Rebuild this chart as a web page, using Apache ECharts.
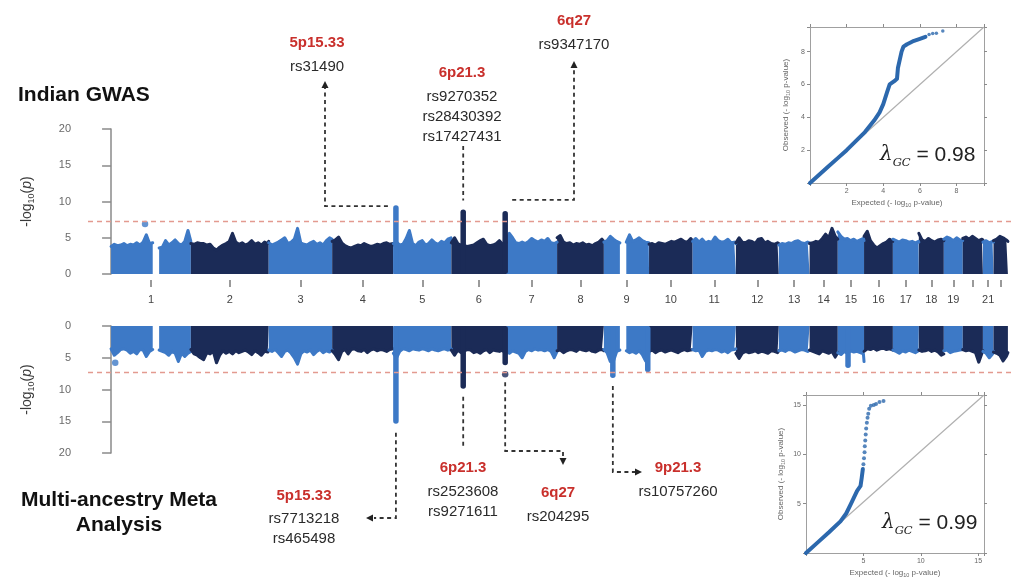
<!DOCTYPE html>
<html><head><meta charset="utf-8">
<script src="https://cdn.jsdelivr.net/npm/echarts@6/dist/echarts.min.js"></script>
<style>html,body{margin:0;padding:0;background:#fff}#c{width:1014px;height:583px}</style>
</head><body><div id="c"></div>
<script>
// ---------------- DATA ----------------
const chromNames = ['1','2','3','4','5','6','7','8','9','10','11','12','13','14','15','16','17','18','19','20','21','22'];
const chromLenMb = [249,243,198,191,181,171,159,146,141,136,135,134,96,88,82,90,81,78,59,63,33,45];
const labelledChroms = ['1','2','3','4','5','6','7','8','9','10','11','12','13','14','15','16','17','18','19','21'];
const binMb = 10; // skyline values are read every 10 Mb along each chromosome
const pTicks = [0,5,10,15,20];
const genomeWideLine = 7.3;

// Indian GWAS: upper envelope of -log10(p) per 10 Mb bin (null = no SNPs)
const indianSkyline = [
 [3.8,4.1,3.9,4.0,4.2,3.9,4.1,4.0,4.3,4.0,4.4,5.4,4.2,4.3,null,3.6,3.7,4.6,4.0,4.3,4.7,4.2,4.0,4.5,6.0,4.5],
 [4.2,4.1,4.3,4.2,4.2,4.0,4.1,3.6,3.3,3.7,4.0,4.2,4.5,5.6,4.4,4.1,4.3,4.0,4.2,4.6,4.1,4.3,4.0,4.4,4.2,4.5],
 [4.3,4.0,4.2,4.4,4.7,5.0,4.2,4.4,4.8,6.3,4.3,4.1,4.0,4.3,4.5,4.1,4.3,4.0,4.6,5.0,4.8],
 [4.5,4.7,5.1,4.3,3.9,3.7,3.6,3.8,4.0,3.9,4.2,4.0,3.8,3.9,4.1,4.0,4.2,4.3,4.1,4.2,4.0],
 [4.2,4.4,4.0,4.1,4.9,6.0,4.2,3.9,4.4,4.6,4.0,4.2,4.7,4.3,4.1,4.5,4.3,4.8,5.0,4.6],
 [4.3,5.0,4.2,4.0,3.9,3.8,3.9,4.0,4.3,4.6,4.8,4.1,3.9,4.0,4.2,4.6,4.1,4.3,4.4],
 [4.6,5.6,5.0,4.3,4.2,4.4,4.2,4.5,4.9,4.6,4.4,4.7,4.5,4.9,4.3,4.2,4.4],
 [5.0,5.3,4.4,4.2,4.3,4.0,4.2,4.1,4.3,4.0,4.1,3.9,4.2,4.4,4.8,4.5],
 [4.4,4.6,5.2,4.8,4.5,4.3,null,4.4,5.4,4.5,4.7,5.0,4.6,4.4,4.3,4.2],
 [4.1,4.2,4.0,4.3,4.2,4.1,4.3,4.5,4.4,4.6,4.8,4.5,4.4,4.9,4.6],
 [4.5,4.9,4.4,4.8,4.3,4.5,4.4,5.1,4.6,4.4,4.5,4.8,4.3,4.4,4.2],
 [4.3,5.0,4.4,4.3,4.6,4.5,4.2,4.8,4.9,4.3,4.5,4.2,4.1,4.3,4.2],
 [4.0,4.2,4.1,4.3,4.2,4.5,4.6,4.3,4.2,4.4,4.3],
 [4.2,4.3,4.5,4.4,4.9,5.5,5.0,6.3,5.2,4.8],
 [5.8,5.2,4.8,4.9,4.6,4.8,4.5,4.7,4.9,4.6],
 [5.2,5.9,4.6,4.0,3.6,3.9,4.2,4.4,4.8,4.5],
 [4.8,4.6,4.4,4.7,4.6,4.4,4.5,4.3,4.5,4.4],
 [5.6,4.7,4.5,4.9,4.6,4.4,4.7,4.8,4.6],
 [4.8,5.1,4.9,4.6,5.0,4.7,4.6],
 [4.9,5.1,4.8,5.2,4.9,4.6,4.8,4.7],
 [4.4,4.6,4.3,4.5,4.4],
 [4.6,4.8,5.2,5.0,4.7,4.5]
];
// Multi-ancestry meta analysis envelope
const metaSkyline = [
 [3.6,4.6,4.2,3.7,3.6,3.8,4.3,4.0,4.4,3.7,3.8,4.8,4.0,3.7,null,3.8,4.0,4.2,4.6,4.0,4.3,5.6,4.3,4.8,4.3,4.0],
 [3.7,4.4,4.6,5.0,5.3,4.2,4.4,4.0,5.8,4.6,3.9,4.3,4.0,4.4,3.9,4.2,4.0,3.8,4.1,4.5,3.9,4.2,4.6,4.0,4.1,3.9],
 [3.8,4.0,3.7,4.2,4.8,4.0,3.8,4.3,5.0,6.0,4.4,3.9,4.1,3.8,4.5,4.0,3.7,4.2,3.9,4.1,3.8],
 [3.9,4.5,5.3,4.0,3.7,4.4,3.7,3.6,3.9,4.0,3.7,4.2,3.8,3.6,3.9,3.7,3.8,4.0,3.7,3.6,3.6],
 [4.3,5.0,4.0,3.6,3.7,3.9,3.6,3.7,3.8,3.6,3.7,3.9,3.6,3.8,3.9,3.7,3.6,3.8,3.7,3.6],
 [3.8,4.6,3.8,4.2,3.9,3.7,3.8,4.2,4.0,4.3,3.9,3.7,4.2,3.8,3.9,4.0,3.8,4.5,4.2],
 [4.0,4.3,3.9,4.1,4.3,5.0,4.0,3.7,3.9,3.6,3.8,3.7,3.9,3.7,4.0,5.0,4.0],
 [3.9,3.8,4.2,3.9,3.7,3.8,4.0,3.6,3.8,3.9,3.7,4.0,4.1,3.8,3.7,3.9],
 [3.7,4.2,5.6,5.5,4.0,3.8,null,3.9,4.2,4.0,4.3,3.9,4.5,5.5,4.5,4.0],
 [4.0,3.8,4.2,3.9,3.8,4.1,3.9,3.8,4.0,4.2,3.9,3.7,3.9,3.8,3.7],
 [3.7,3.9,3.8,4.8,4.0,3.8,3.9,3.7,3.8,4.1,3.9,4.2,3.8,3.7,3.6],
 [4.3,5.1,4.3,4.0,4.2,4.1,3.9,4.2,4.0,4.1,4.3,3.9,4.0,4.2,3.9],
 [3.9,3.8,4.0,3.7,3.8,4.1,3.9,3.7,3.8,4.0,3.8],
 [3.8,4.0,4.2,4.4,3.9,4.1,4.3,4.0,4.9,4.2],
 [4.2,4.5,4.0,4.3,3.9,4.1,4.0,4.2,4.4,5.6],
 [4.0,3.6,3.7,3.5,3.8,3.6,3.5,3.7,3.6,3.8],
 [3.8,4.0,4.3,3.9,4.1,3.8,4.0,4.2,3.9,3.8],
 [3.8,4.0,3.9,3.7,4.0,3.8,4.1,4.6,4.4],
 [3.9,3.8,4.2,4.0,3.9,3.8,3.7],
 [3.7,3.9,3.8,4.0,4.2,5.7,4.3,3.9],
 [4.0,4.3,5.0,4.4,4.0],
 [4.1,4.3,4.6,5.5,4.8,4.2]
];
// narrow columns of associated SNPs: [chromosome, position Mb, top -log10 p]
const indianPeaks = [['5',8,9.5],['6',37,8.9],['6',168,8.7]];
const metaPeaks = [['5',8,15.4],['6',37,9.9],['6',168,6.2],['9',28,8.2],['9',137,7.3],['15',32,6.6]];
const indianDots = [['1',106,6.9]];
const metaDots = [['1',13,5.8],['6',168,7.6]];

// loci annotations
const indianLociBands = ['5p15.33','6p21.3','6q27'];
const indianLociSnps = [['rs31490'],['rs9270352','rs28430392','rs17427431'],['rs9347170']];
const metaLociBands = ['5p15.33','6p21.3','6q27','9p21.3'];
const metaLociSnps = [['rs7713218','rs465498'],['rs2523608','rs9271611'],['rs204295'],['rs10757260']];

// QQ plots [expected, observed]
const qqIndianCurve = [[0,0],[0.5,0.5],[1,1],[1.5,1.5],[2,2],[2.5,2.55],[3,3.1],[3.25,3.45],[3.5,3.8],[3.8,4.3],[4.0,4.8],[4.2,5.5],[4.35,6.0],[4.6,6.2],[4.75,6.35],[4.8,7.0],[4.9,7.1],[5.0,8.0],[5.1,8.3],[5.3,8.45],[5.6,8.62],[6.0,8.78],[6.3,8.9]];
const qqIndianTail = [[6.5,9.05],[6.7,9.1],[6.9,9.12],[7.25,9.25]];
const qqMetaCurve = [[0,0],[1,1.05],[2,2.1],[3,3.2],[3.5,4.0],[3.9,4.95],[4.45,6.3],[4.75,6.8],[4.85,7.6],[4.95,8.5]];
const qqMetaTail = [[5.0,9.0],[5.05,9.6],[5.1,10.2],[5.12,10.8],[5.16,11.4],[5.2,12.0],[5.24,12.6],[5.3,13.2],[5.36,13.7],[5.42,14.1],[5.5,14.6],[5.65,14.9],[5.9,15.0],[6.1,15.1],[6.4,15.3],[6.75,15.4]];
const lambdaIndian = '0.98';
const lambdaMeta = '0.99';

// ---------------- CHART ----------------
const LIGHT = '#3d79c6', DARK = '#1b2b57';
const offsets = []; let acc = 0;
chromLenMb.forEach(l => { offsets.push(acc); acc += l; });
const totalMb = acc;
const centers = chromLenMb.map((l, i) => offsets[i] + l / 2);
const labelCenters = labelledChroms.map(c => centers[chromNames.indexOf(c)]);
const cum = (chr, pos) => offsets[chromNames.indexOf(chr)] + pos;
const colorOf = ci => (ci % 2 === 0 ? LIGHT : DARK);
const chromOfValue = v => { let best = 0, bd = Infinity; centers.forEach((c, i) => { const d = Math.abs(c - v); if (d < bd) { bd = d; best = i; } }); return chromNames[best]; };

function skylineSeries(sky, ai) {
  return sky.map((vals, ci) => ({
    type: 'line', xAxisIndex: ai, yAxisIndex: ai, symbol: 'none', silent: true, animation: false,
    data: vals.map((v, i) => [offsets[ci] + Math.min(i * binMb, chromLenMb[ci]), v]),
    lineStyle: { width: 3, color: colorOf(ci), cap: 'round', join: 'round' },
    areaStyle: { color: colorOf(ci), opacity: 1 },
    connectNulls: false, z: 2
  }));
}
function towerSeries(peaks, ai) {
  return {
    type: 'custom', xAxisIndex: ai, yAxisIndex: ai, silent: true, animation: false, z: 3,
    encode: { x: 0, y: 1 },
    data: peaks.map(p => [cum(p[0], p[1]), p[2], chromNames.indexOf(p[0])]),
    renderItem: (params, api) => {
      const x = api.value(0), v = api.value(1), ci = api.value(2);
      const a = api.coord([x, 0]), b = api.coord([x, v]);
      const w = 5.5, y0 = Math.min(a[1], b[1]), h = Math.abs(a[1] - b[1]);
      return { type: 'rect', shape: { x: a[0] - w / 2, y: y0, width: w, height: h, r: w / 2 }, style: { fill: colorOf(ci) } };
    }
  };
}
function dotSeries(dots, ai) {
  return {
    type: 'scatter', xAxisIndex: ai, yAxisIndex: ai, silent: true, animation: false, z: 3, symbolSize: 6.5,
    data: dots.map(d => ({ value: [cum(d[0], d[1]), d[2]], itemStyle: { color: colorOf(chromNames.indexOf(d[0])) } }))
  };
}
const thresholdMark = {
  silent: true, symbol: ['none', 'none'], label: { show: false }, animation: false,
  lineStyle: { color: '#e39a90', type: [5, 4], width: 1.3 },
  data: [{ yAxis: genomeWideLine }]
};

const FONT = '"Liberation Sans", Arial, Helvetica, sans-serif';
const yName = '-log{s|10}({i|p})';
const yNameStyle = {
  fontSize: 14, color: '#3a3a3a', fontFamily: FONT,
  rich: {
    s: { fontSize: 9, color: '#3a3a3a', fontFamily: FONT, verticalAlign: 'bottom', lineHeight: 18 },
    i: { fontSize: 14, color: '#3a3a3a', fontFamily: FONT, fontStyle: 'italic', lineHeight: 18 }
  }
};
function manhattanY(gi, inverse) {
  return {
    gridIndex: gi, type: 'value', min: pTicks[0], max: pTicks[pTicks.length - 1], interval: 5, inverse: inverse,
    axisLine: { show: true, lineStyle: { color: '#8a8a8a', width: 1.5 } },
    axisTick: { show: true, length: 9, lineStyle: { color: '#8a8a8a', width: 1.5 } },
    axisLabel: { color: '#6a6a6a', fontSize: 11, margin: 17, fontFamily: FONT },
    splitLine: { show: false },
    name: yName, nameLocation: 'middle', nameRotate: 90, nameGap: 52, nameTextStyle: yNameStyle
  };
}
const qqName = (t) => t + ' (- log{s|10} p-value)';
function qqAxes(gi, max, step, isX, mirror, nameGap) {
  const ax = {
    gridIndex: gi, type: 'value', min: 0, max: max, interval: step,
    position: isX ? (mirror ? 'top' : 'bottom') : (mirror ? 'right' : 'left'),
    axisLine: { show: true, onZero: false, lineStyle: { color: '#a0a0a0', width: 1 } },
    axisTick: { show: true, length: 3, lineStyle: { color: '#8a8a8a', width: 1 } },
    axisLabel: { show: !mirror, fontSize: 7, color: '#666', margin: 5, fontFamily: FONT,
      formatter: v => (v > 0 && Math.abs(v / step - Math.round(v / step)) < 1e-6) ? String(v) : '' },
    splitLine: { show: false }
  };
  if (!mirror) {
    ax.name = qqName(isX ? 'Expected' : 'Observed');
    ax.nameLocation = 'middle';
    ax.nameGap = nameGap;
    if (!isX) ax.nameRotate = 90;
    ax.nameTextStyle = { fontSize: 8, color: '#666', fontFamily: FONT,
      rich: { s: { fontSize: 5.5, color: '#666', fontFamily: FONT, verticalAlign: 'bottom', lineHeight: 10 } } };
  }
  return ax;
}

const series = [];
const topSky = skylineSeries(indianSkyline, 0);
topSky[0].markLine = thresholdMark;
const botSky = skylineSeries(metaSkyline, 1);
botSky[0].markLine = thresholdMark;
series.push(...topSky, towerSeries(indianPeaks, 0), dotSeries(indianDots, 0));
series.push(...botSky, towerSeries(metaPeaks, 1), dotSeries(metaDots, 1));
// QQ plots
series.push({ type: 'line', xAxisIndex: 2, yAxisIndex: 2, data: [[0, 0], [9.5, 9.5]], symbol: 'none', silent: true, animation: false, lineStyle: { color: '#b0b0b0', width: 1.2 }, z: 3 });
series.push({ type: 'line', xAxisIndex: 2, yAxisIndex: 2, data: qqIndianCurve, symbol: 'none', silent: true, animation: false, lineStyle: { color: '#2c68ad', width: 4, cap: 'round', join: 'round' }, z: 4 });
series.push({ type: 'scatter', xAxisIndex: 2, yAxisIndex: 2, data: qqIndianTail, symbolSize: 3.5, silent: true, animation: false, itemStyle: { color: '#2c68ad' }, z: 4 });
series.push({ type: 'line', xAxisIndex: 4, yAxisIndex: 4, data: [[0, 0], [15.5, 16]], symbol: 'none', silent: true, animation: false, lineStyle: { color: '#b0b0b0', width: 1.2 }, z: 3 });
series.push({ type: 'line', xAxisIndex: 4, yAxisIndex: 4, data: qqMetaCurve, symbol: 'none', silent: true, animation: false, lineStyle: { color: '#2c68ad', width: 4, cap: 'round', join: 'round' }, z: 4 });
series.push({ type: 'scatter', xAxisIndex: 4, yAxisIndex: 4, data: qqMetaTail, symbolSize: 4, silent: true, animation: false, itemStyle: { color: '#2c68ad' }, z: 4 });

const option = {
  backgroundColor: '#fff',
  animation: false,
  textStyle: { fontFamily: FONT },
  grid: [
    { left: 88, right: 0, top: 129, height: 145 },
    { left: 88, right: 0, top: 326, height: 127 },
    { left: 810, top: 27, width: 174, height: 156 },
    { left: 806, top: 395, width: 178, height: 158 }
  ],
  xAxis: [
    { gridIndex: 0, type: 'value', min: -72, max: totalMb + 19, offset: 6,
      axisLine: { show: false, onZero: false }, splitLine: { show: false },
      axisTick: { show: true, length: 7, customValues: centers, lineStyle: { color: '#7a7a7a', width: 1.5 } },
      axisLabel: { show: true, customValues: labelCenters, fontSize: 11, color: '#444', margin: 14, fontFamily: FONT, formatter: v => chromOfValue(v) } },
    { gridIndex: 1, type: 'value', min: -72, max: totalMb + 19, show: false },
    qqAxes(2, 9.5, 2, true, false, 15), qqAxes(2, 9.5, 2, true, true),
    qqAxes(3, 15.5, 5, true, false, 15), qqAxes(3, 15.5, 5, true, true)
  ],
  yAxis: [
    manhattanY(0, false), manhattanY(1, true),
    qqAxes(2, 9.5, 2, false, false, 19), qqAxes(2, 9.5, 2, false, true),
    qqAxes(3, 16, 5, false, false, 20), qqAxes(3, 16, 5, false, true)
  ],
  series: series
};
const chart = echarts.init(document.getElementById('c'));
chart.setOption(option);

// ---------------- ANNOTATIONS ----------------
const P = (ai, chr, pos, v) => chart.convertToPixel({ xAxisIndex: ai, yAxisIndex: ai }, [cum(chr, pos), v]);
const g = [];
const DASH = { stroke: '#333', lineWidth: 1.8, lineDash: [4, 3.5], fill: null };
function dashed(pts) { g.push({ type: 'polyline', shape: { points: pts }, style: DASH, z: 100, silent: true }); }
function arrow(x, y, dir) {
  const s = 3.5, l = 7; let pts;
  if (dir === 'up') pts = [[x, y], [x - s, y + l], [x + s, y + l]];
  else if (dir === 'down') pts = [[x, y], [x - s, y - l], [x + s, y - l]];
  else if (dir === 'left') pts = [[x, y], [x + l, y - s], [x + l, y + s]];
  else pts = [[x, y], [x - l, y - s], [x - l, y + s]];
  g.push({ type: 'polygon', shape: { points: pts }, style: { fill: '#222' }, z: 101, silent: true });
}
function txt(text, x, y, red, extra) {
  g.push(Object.assign({ type: 'text', x: x, y: y, z: 100, silent: true,
    style: { text: text, fill: red ? '#c9302c' : '#2a2a2a', font: (red ? 'bold ' : '') + '15px ' + FONT, textAlign: 'center', textVerticalAlign: 'middle' } }, extra || {}));
}
function locus(band, snps, x, y, gap) {
  txt(band, x, y, true);
  snps.forEach((s, i) => txt(s, x, y + gap + i * 20, false));
}
// Indian GWAS
let a = P(0, '5', 8, 9.5);
dashed([[a[0] - 8, a[1] + 1], [325, a[1] + 1], [325, 88]]); arrow(325, 81, 'up');
locus(indianLociBands[0], indianLociSnps[0], 317, 43, 24);
a = P(0, '6', 37, 8.9);
dashed([[a[0], 146], [a[0], a[1] - 9]]);
locus(indianLociBands[1], indianLociSnps[1], 462, 73, 24);
a = P(0, '6', 168, 8.7);
dashed([[a[0] + 7, a[1] - 11], [574, a[1] - 11], [574, 68]]); arrow(574, 61, 'up');
locus(indianLociBands[2], indianLociSnps[2], 574, 21, 24);
// Meta analysis
a = P(1, '5', 8, 15.4);
dashed([[a[0], a[1] + 9], [a[0], 518], [374, 518]]); arrow(366, 518, 'left');
locus(metaLociBands[0], metaLociSnps[0], 304, 496, 23);
a = P(1, '6', 37, 9.9);
dashed([[a[0], a[1] + 8], [a[0], 448]]);
locus(metaLociBands[1], metaLociSnps[1], 463, 468, 24);
a = P(1, '6', 168, 7.6);
dashed([[a[0], a[1] + 8], [a[0], 451], [563, 451], [563, 458]]); arrow(563, 465, 'down');
locus(metaLociBands[2], metaLociSnps[2], 558, 493, 24);
a = P(1, '9', 28, 8.2);
dashed([[a[0], a[1] + 8], [a[0], 472], [635, 472]]); arrow(642, 472, 'right');
locus(metaLociBands[3], metaLociSnps[3], 678, 468, 24);

// titles
const TITLE_FONT = 'bold 21px ' + FONT;
g.push({ type: 'text', x: 18, y: 95, silent: true, style: { text: 'Indian GWAS', font: TITLE_FONT, fill: '#111', textAlign: 'left', textVerticalAlign: 'middle' } });
g.push({ type: 'text', x: 119, y: 500, silent: true, style: { text: 'Multi-ancestry Meta', font: TITLE_FONT, fill: '#111', textAlign: 'center', textVerticalAlign: 'middle' } });
g.push({ type: 'text', x: 119, y: 525, silent: true, style: { text: 'Analysis', font: TITLE_FONT, fill: '#111', textAlign: 'center', textVerticalAlign: 'middle' } });

// lambda labels
function lambdaText(val, x, y) {
  g.push({ type: 'text', x: x, y: y, z: 110, silent: true, style: {
    text: '{l|λ}{g|GC}{n| = ' + val + '}', textAlign: 'left', textVerticalAlign: 'middle', fill: '#222',
    rich: {
      l: { fontFamily: '"DejaVu Serif", serif', fontStyle: 'italic', fontSize: 20, fill: '#222', lineHeight: 28, verticalAlign: 'middle' },
      g: { fontFamily: '"DejaVu Serif", serif', fontStyle: 'italic', fontSize: 11.5, fill: '#222', lineHeight: 28, verticalAlign: 'bottom' },
      n: { fontFamily: FONT, fontSize: 21, fill: '#222', lineHeight: 28, verticalAlign: 'middle' }
    } } });
}
lambdaText(lambdaIndian, 880, 155);
lambdaText(lambdaMeta, 882, 523);

chart.setOption({ graphic: { elements: g } });
</script>
</body></html>
